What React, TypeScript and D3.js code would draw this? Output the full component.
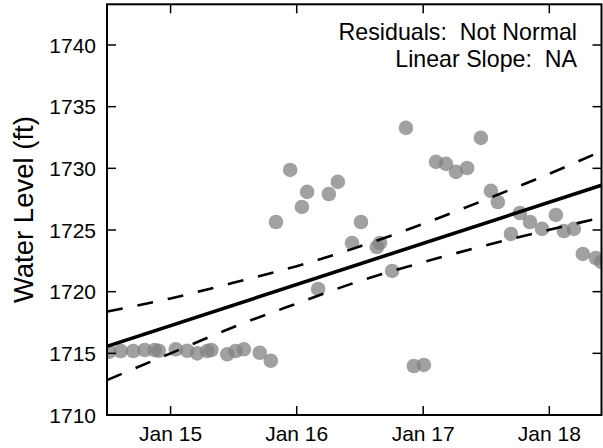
import React from "react";
import * as d3 from "d3";

// ---- data ----
const obsDates: string[] = [
  "2014-07-07", "2014-08-10", "2014-09-15", "2014-10-18", "2014-11-16", "2014-11-28",
  "2015-01-16", "2015-02-18", "2015-03-19", "2015-04-17", "2015-04-29", "2015-06-14",
  "2015-07-08", "2015-08-01", "2015-09-16", "2015-10-18", "2015-11-02", "2015-12-13",
  "2016-01-16", "2016-01-31", "2016-03-03", "2016-04-03", "2016-04-29", "2016-06-09",
  "2016-07-05", "2016-08-20", "2016-08-29", "2016-10-03", "2016-11-12", "2016-12-05",
  "2017-01-03", "2017-02-07", "2017-03-08", "2017-04-06", "2017-05-08", "2017-06-17",
  "2017-07-16", "2017-08-05", "2017-09-12", "2017-10-08", "2017-11-06", "2017-12-11",
  "2018-01-20", "2018-02-12", "2018-03-13", "2018-04-08", "2018-05-16", "2018-05-31",
];
const obsLevels: number[] = [
  1715.13, 1715.19, 1715.19, 1715.27, 1715.27, 1715.21,
  1715.33, 1715.21, 1715.0, 1715.19, 1715.27, 1714.92,
  1715.19, 1715.33, 1715.05, 1714.4, 1725.65, 1729.87,
  1726.87, 1728.09, 1720.22, 1727.92, 1728.9, 1723.95,
  1725.65, 1723.62, 1723.95, 1721.68, 1733.28, 1713.97,
  1714.06, 1730.52, 1730.36, 1729.71, 1730.03, 1732.47,
  1728.17, 1727.27, 1724.68, 1726.38, 1725.65, 1725.09,
  1726.22, 1724.92, 1725.09, 1723.06, 1722.73, 1722.41,
];

const fitDates: string[] = ["2014-07-01", "2018-06-01"];
const fitLevels: number[] = [1715.57, 1728.63];

const bandDates: string[] = [
  "2014-07-01", "2015-01-01", "2015-07-01", "2016-01-01", "2016-07-01",
  "2017-01-01", "2017-07-01", "2018-01-01", "2018-06-01",
];
const bandUpper: number[] = [1718.38, 1719.45, 1720.72, 1722.07, 1723.66, 1725.5, 1727.47, 1729.56, 1731.39];
const bandLower: number[] = [1712.83, 1715.0, 1717.12, 1719.04, 1720.86, 1722.39, 1723.75, 1725.02, 1726.0];

const xDomain: string[] = ["2014-07-01", "2018-06-01"];
const yDomain: number[] = [1710, 1743.3];
const xTickDates: string[] = ["2015-01-01", "2016-01-01", "2017-01-01", "2018-01-01"];
const yTickValues: number[] = [1710, 1715, 1720, 1725, 1730, 1735, 1740];

const annotationLines: string[] = ["Residuals:  Not Normal", "Linear Slope:  NA"];
const yLabel = "Water Level (ft)";

// ---- layout ----
const W = 603;
const H = 448;
const L = 107;
const R = 601.5;
const T = 4.3;
const B = 415;
const FONT = "'Liberation Sans', Arial, Helvetica, sans-serif";

export default function App() {
  const parse = d3.timeParse("%Y-%m-%d");
  const p = (s: string) => parse(s) as Date;
  const x = d3.scaleTime().domain(xDomain.map(p)).range([L, R]);
  const y = d3.scaleLinear().domain(yDomain).range([B, T]);
  const fmt = d3.timeFormat("%b %y");

  const line = d3
    .line<[Date, number]>()
    .x((d) => x(d[0]))
    .y((d) => y(d[1]));
  const curve = d3
    .line<[Date, number]>()
    .x((d) => x(d[0]))
    .y((d) => y(d[1]))
    .curve(d3.curveMonotoneX);

  const fitPts: [Date, number][] = fitDates.map((d, i) => [p(d), fitLevels[i]]);
  const upPts: [Date, number][] = bandDates.map((d, i) => [p(d), bandUpper[i]]);
  const loPts: [Date, number][] = bandDates.map((d, i) => [p(d), bandLower[i]]);

  const tickLen = 9;

  return (
    <svg
      width={W}
      height={H}
      style={{ position: "absolute", left: 0, top: 0, background: "#fff" }}
      fontFamily={FONT}
    >
      <defs>
        <clipPath id="plot">
          <rect x={L} y={T} width={R - L} height={B - T} />
        </clipPath>
      </defs>
      <rect x={0} y={0} width={W} height={H} fill="#fff" />
      <g clipPath="url(#plot)">
        {obsDates.map((d, i) => (
          <circle
            key={i}
            cx={x(p(d))}
            cy={y(obsLevels[i])}
            r={7.3}
            fill="#808080"
            fillOpacity={0.74}
          />
        ))}
        <path d={line(fitPts) || ""} fill="none" stroke="#000" strokeWidth={3.6} />
        <path d={curve(upPts) || ""} fill="none" stroke="#000" strokeWidth={2.6} strokeDasharray="16,15" />
        <path d={curve(loPts) || ""} fill="none" stroke="#000" strokeWidth={2.6} strokeDasharray="16,15" />
      </g>
      {/* ticks on all four sides, pointing inward */}
      {xTickDates.map((d) => {
        const xx = x(p(d));
        return (
          <g key={d}>
            <line x1={xx} x2={xx} y1={B} y2={B - tickLen} stroke="#000" strokeWidth={1.5} />
            <line x1={xx} x2={xx} y1={T} y2={T + tickLen} stroke="#000" strokeWidth={1.5} />
            <text x={xx} y={441} textAnchor="middle" fontSize={21} fill="#000">
              {fmt(p(d))}
            </text>
          </g>
        );
      })}
      {yTickValues.map((v) => {
        const yy = y(v);
        return (
          <g key={v}>
            <line x1={L} x2={L + tickLen} y1={yy} y2={yy} stroke="#000" strokeWidth={1.5} />
            <line x1={R} x2={R - tickLen} y1={yy} y2={yy} stroke="#000" strokeWidth={1.5} />
            <text x={96} y={yy} dy="0.36em" textAnchor="end" fontSize={21} fill="#000">
              {v}
            </text>
          </g>
        );
      })}
      <rect x={L} y={T} width={R - L} height={B - T} fill="none" stroke="#000" strokeWidth={2} />
      {annotationLines.map((t, i) => (
        <text
          key={i}
          x={577}
          y={40 + i * 26.7}
          textAnchor="end"
          fontSize={23.2}
          fill="#000"
          style={{ whiteSpace: "pre" }}
        >
          {t}
        </text>
      ))}
      <text
        transform={`translate(33,${(T + B) / 2}) rotate(-90)`}
        textAnchor="middle"
        fontSize={27.5}
        fill="#000"
      >
        {yLabel}
      </text>
    </svg>
  );
}
